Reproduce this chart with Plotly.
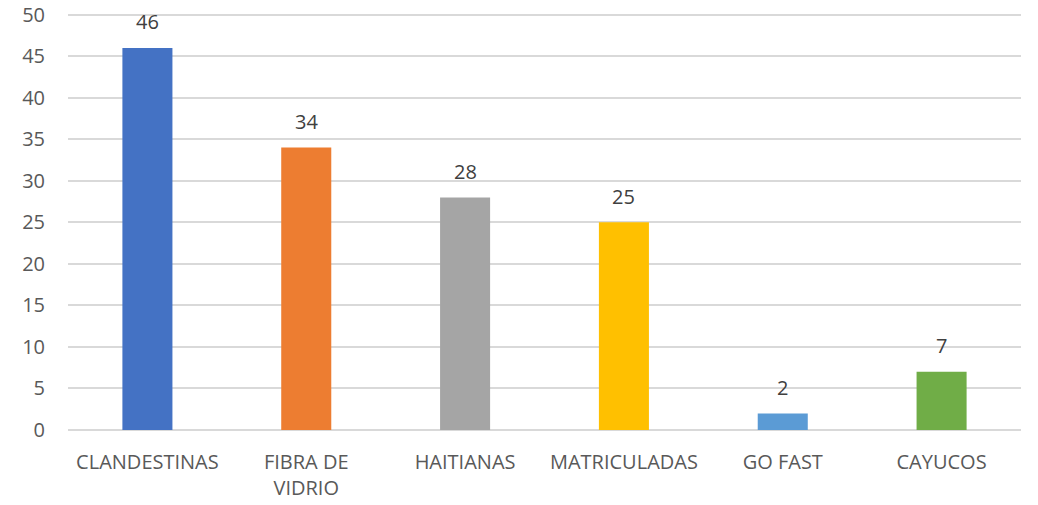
import plotly.graph_objects as go

categories = ["CLANDESTINAS", "FIBRA DE<br>VIDRIO", "HAITIANAS", "MATRICULADAS", "GO FAST", "CAYUCOS"]
values = [46, 34, 28, 25, 2, 7]
colors = ["#4472C4", "#ED7D31", "#A5A5A5", "#FFC000", "#5B9BD5", "#70AD47"]
y_ticks = [0, 5, 10, 15, 20, 25, 30, 35, 40, 45, 50]

font_family = "Open Sans, Liberation Sans, sans-serif"

fig = go.Figure(go.Bar(
    x=categories,
    y=values,
    marker=dict(color=colors, line=dict(width=0)),
    width=0.315,
    hoverinfo="x+y",
))

for c, v in zip(categories, values):
    fig.add_annotation(
        x=c, y=v, text=str(v), showarrow=False,
        xref="x", yref="y", yanchor="middle", yshift=26,
        font=dict(size=20, color="#404040", family=font_family),
    )

fig.update_layout(
    width=1038,
    height=505,
    margin=dict(l=68, r=17, t=13, b=75),
    paper_bgcolor="white",
    plot_bgcolor="white",
    showlegend=False,
    font=dict(family=font_family, size=20, color="#595959"),
)
fig.update_xaxes(
    showgrid=False,
    showline=False,
    ticks="",
    automargin=False,
    tickfont=dict(size=20, color="#595959"),
    ticklabelstandoff=18,
)
fig.update_yaxes(
    range=[0, 50.2],
    tickvals=y_ticks,
    showgrid=True,
    gridcolor="#D9D9D9",
    gridwidth=1.5,
    zeroline=True,
    zerolinecolor="#D9D9D9",
    zerolinewidth=1.5,
    showline=False,
    ticks="",
    automargin=False,
    ticklabeloverflow="allow",
    tickfont=dict(size=20, color="#595959"),
    ticklabelstandoff=22,
)

fig.write_html(
    "out.html",
    config={"displayModeBar": False},
    post_script="document.body.style.margin='0';",
)
